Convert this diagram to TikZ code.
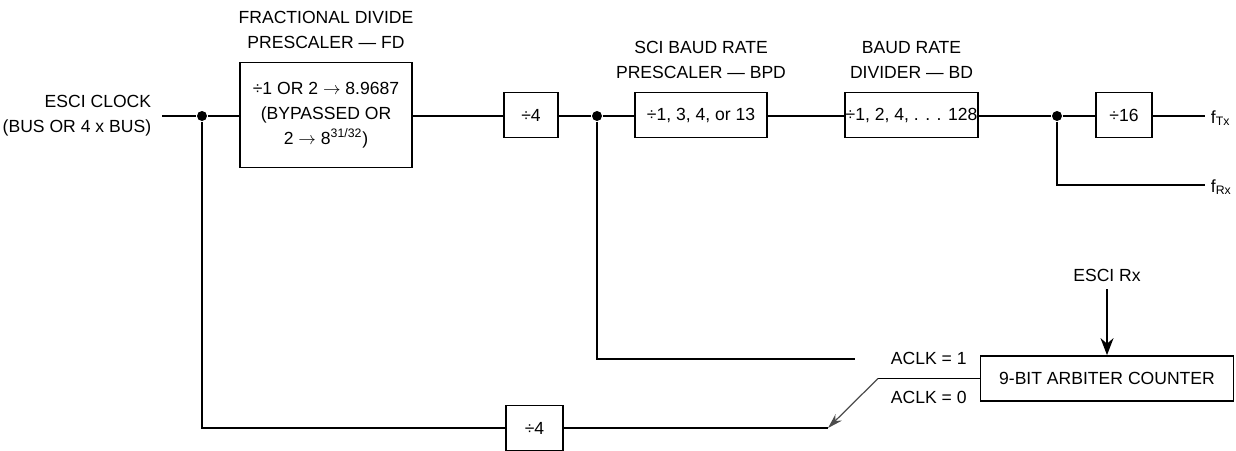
\documentclass[tikz,border=0pt]{standalone}
\usepackage{fontspec}
\setmainfont{Liberation Sans}
\usetikzlibrary{arrows.meta}
\newcommand{\rarr}{\ensuremath{\rightarrow}}
\begin{document}
\begin{tikzpicture}[x=0.02cm,y=-0.02cm,
  font=\fontsize{10}{14.2}\selectfont,
  line width=1pt,
  blk/.style={draw, line width=1pt, inner sep=0pt, align=center},
  dotnode/.style={circle, fill, inner sep=0pt, minimum size=0.2cm},
  lbl/.style={inner sep=0pt, align=center},
  swarrow/.style={line width=0.7pt, draw=black!70, -{Stealth[length=0.3cm,width=0.18cm]}},
  inarrow/.style={line width=1pt, -{Stealth[length=0.34cm,width=0.26cm]}}]
\useasboundingbox (0,0) rectangle (1236,450);

% top chain
\node[lbl, anchor=east, align=right] (clk) at (152,116) {ESCI CLOCK\\(BUS OR 4 x BUS)};
\coordinate (in) at (162,116);
\node[dotnode] (d1) at (202,116) {};
\node[blk, minimum width=3.44cm, minimum height=2.1cm] (fd) at (326,115) {÷1 OR 2 \rarr\ 8.9687\\(BYPASSED OR\\2 \rarr\ 8\textsuperscript{31/32})};
\node[lbl] (fdt) at (326,30) {FRACTIONAL DIVIDE\\PRESCALER — FD};
\node[blk, minimum width=1.08cm, minimum height=0.9cm] (q1) at (531,115) {÷4};
\node[dotnode] (d2) at (597,116) {};
\node[blk, minimum width=2.64cm, minimum height=0.9cm] (bpd) at (701,115) {÷1, 3, 4, or 13};
\node[lbl] (bpdt) at (701,59.5) {SCI BAUD RATE\\PRESCALER — BPD};
\node[blk, minimum width=2.66cm, minimum height=0.9cm] (bd) at (911.5,115) {÷1, 2, 4, . . . 128};
\node[lbl] (bdt) at (911.5,59.5) {BAUD RATE\\DIVIDER — BD};
\node[dotnode] (d3) at (1057,116) {};
\node[blk, minimum width=1.12cm, minimum height=0.9cm] (q16) at (1124,115) {÷16};
\coordinate (tx) at (1205,116);
\node[lbl, anchor=west] (ftx) at (1210,118) {f\textsubscript{Tx}};
\coordinate (rx) at (1205,185);
\node[lbl, anchor=west] (frx) at (1210,187) {f\textsubscript{Rx}};

% bottom part
\coordinate (a1e) at (855,359);
\node[lbl, anchor=west] (ak1) at (890,358) {ACLK = 1};
\node[lbl, anchor=west] (ak0) at (890,397) {ACLK = 0};
\node[blk, minimum width=5.06cm, minimum height=0.9cm] (arb) at (1107,378.5) {9-BIT ARBITER COUNTER};
\node[lbl] (rxin) at (1107,275) {ESCI Rx};
\coordinate (piv) at (878,378.5);
\coordinate (sw0) at (828,428);
\node[blk, minimum width=1.14cm, minimum height=0.9cm] (q2) at (534.5,428) {÷4};

% wires
\draw (in) -- (d1) -- (d1 -| fd.west);
\draw (d1 -| fd.east) -- (d1 -| q1.west);
\draw (d1 -| q1.east) -- (d2) -- (d2 -| bpd.west);
\draw (d2 -| bpd.east) -- (d2 -| bd.west);
\draw (d3 -| bd.east) -- (d3) -- (d3 -| q16.west);
\draw (d3 -| q16.east) -- (tx);
\draw (d3) |- (rx);
\draw (d2) |- (a1e);
\draw (d1) |- (q2.west);
\draw (q2.east) -- (sw0);
\draw (arb.west) -- (piv);
\draw[swarrow] (piv) -- (sw0);
\draw[inarrow] ([yshift=-0.14cm]rxin.south) -- (arb.north);
\end{tikzpicture}
\end{document}
